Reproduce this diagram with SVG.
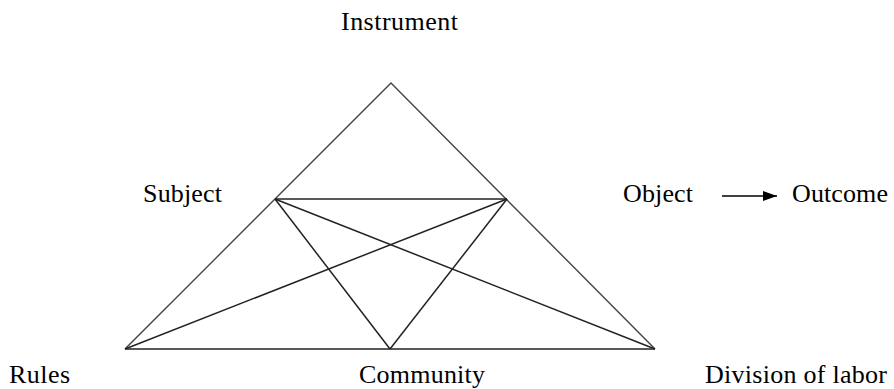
<svg xmlns="http://www.w3.org/2000/svg" width="894" height="389" viewBox="0 0 894 389">
<style>
text{font-family:"Liberation Serif","Times New Roman",serif;font-size:26px;fill:#000}
.side{stroke:#444;stroke-width:1.4;fill:none}
.inner{stroke:#222;stroke-width:1.5;fill:none}
</style>
<defs>
<marker id="ah" markerWidth="14" markerHeight="10" refX="14" refY="5" orient="auto" markerUnits="userSpaceOnUse">
<path d="M0,0 L14,5 L0,10 Z" fill="#000"/>
</marker>
</defs>
<rect width="894" height="389" fill="#fff"/>
<g id="connectors">
<path class="side" d="M125,349 L391,83 L655,349"/>
<line class="inner" x1="125" y1="349" x2="655" y2="349" stroke-width="2"/>
<line class="inner" x1="275" y1="199" x2="507" y2="199" stroke-width="2"/>
<line class="inner" x1="275" y1="199" x2="390" y2="349"/>
<line class="inner" x1="275" y1="199" x2="655" y2="349"/>
<line class="inner" x1="507" y1="199" x2="390" y2="349"/>
<line class="inner" x1="507" y1="199" x2="125" y2="349"/>
<line x1="722" y1="196" x2="777" y2="196" stroke="#000" stroke-width="1.5" marker-end="url(#ah)"/>
</g>
<g id="instrument"><text x="341" y="30" textLength="117">Instrument</text></g>
<g id="subject"><text x="143" y="202" textLength="79">Subject</text></g>
<g id="object"><text x="623" y="202" textLength="70">Object</text></g>
<g id="outcome"><text x="792" y="202" textLength="96">Outcome</text></g>
<g id="rules"><text x="9" y="383" textLength="61">Rules</text></g>
<g id="community"><text x="359" y="383" textLength="126">Community</text></g>
<g id="division"><text x="705" y="383" textLength="182">Division of labor</text></g>
</svg>
